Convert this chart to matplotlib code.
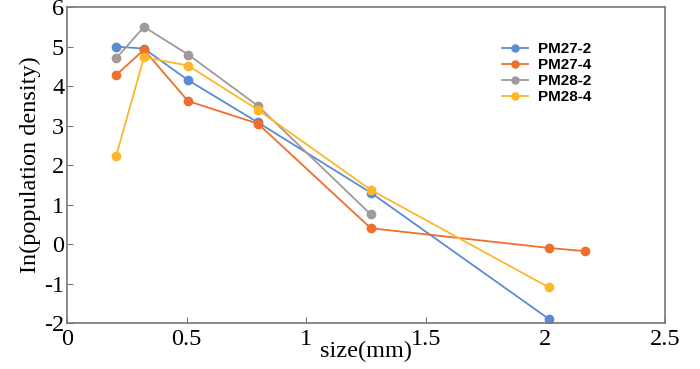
import matplotlib
matplotlib.use('Agg')
import matplotlib.pyplot as plt

plt.rcParams['axes.unicode_minus'] = False

# size (mm) and ln(population density) for each sample
size_27_2 = [0.205, 0.322, 0.506, 0.798, 1.27, 2.015]
pm27_2 = [5.0, 4.95, 4.15, 3.08, 1.3, -1.9]

size_27_4 = [0.205, 0.322, 0.506, 0.798, 1.27, 2.015, 2.166]
pm27_4 = [4.28, 4.92, 3.62, 3.05, 0.4, -0.1, -0.18]

size_28_2 = [0.205, 0.322, 0.506, 0.798, 1.27]
pm28_2 = [4.7, 5.5, 4.8, 3.5, 0.75]

size_28_4 = [0.205, 0.322, 0.506, 0.798, 1.27, 2.015]
pm28_4 = [2.22, 4.73, 4.52, 3.4, 1.37, -1.1]

labels = ['PM27-2', 'PM27-4', 'PM28-2', 'PM28-4']
colors = ['#5b8bd0', '#ee6f2d', '#a09a98', '#fcb72c']

fig = plt.figure(figsize=(7, 3.69), dpi=100)
ax = fig.add_axes([0.0957, 0.1247, 0.8543, 0.856])

series = [(size_27_2, pm27_2), (size_27_4, pm27_4),
          (size_28_2, pm28_2), (size_28_4, pm28_4)]
for (x, y), lab, c in zip(series, labels, colors):
    ax.plot(x, y, '-o', color=c, label=lab, lw=1.3, ms=6)

ax.set_xlim(0, 2.5)
ax.set_ylim(-2, 6)
ax.set_xticks([0, 0.5, 1, 1.5, 2, 2.5])
ax.set_xticklabels(['0', '0.5', '1', '1.5', '2', '2.5'])
ax.set_yticks(range(-2, 7))

serif = 'Liberation Serif'
for t in ax.get_xticklabels() + ax.get_yticklabels():
    t.set_fontfamily(serif)
    t.set_fontsize(17.5)
ax.tick_params(direction='in', length=4, color='#777777')
ax.tick_params(axis='x', pad=4)
ax.tick_params(axis='y', pad=2)
for s in ax.spines.values():
    s.set_color('#777777')
    s.set_linewidth(1.2)

ax.set_xlabel('size(mm)', fontfamily=serif, fontsize=17.5, labelpad=-6)
ax.set_ylabel('In(population density)', fontfamily=serif, fontsize=17.5, labelpad=2)

leg = ax.legend(loc='upper left', bbox_to_anchor=(0.727, 0.888), frameon=False,
                prop={'family': 'Liberation Sans', 'weight': 'bold', 'size': 11},
                handlelength=1.7, labelspacing=0.12, markerscale=0.85,
                handletextpad=0.65, borderpad=0, borderaxespad=0)

fig.savefig('out.png', dpi=100)
